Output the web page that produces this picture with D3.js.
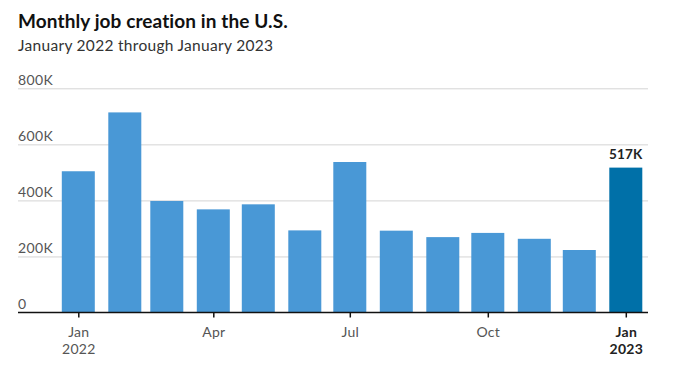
<!DOCTYPE html>
<html>
<head>
<meta charset="utf-8">
<script src="https://cdn.jsdelivr.net/npm/d3@7"></script>
<style>
  body { margin: 0; background: #fff; }
  #container { width: 675px; height: 377px; }
  text { font-family: Lato, "Open Sans", sans-serif; }
</style>
</head>
<body>
<div id="container"></div>
<script>
// values in thousands
const months = ['2022-01-01', '2022-02-01', '2022-03-01', '2022-04-01', '2022-05-01', '2022-06-01', '2022-07-01',
    '2022-08-01', '2022-09-01', '2022-10-01', '2022-11-01', '2022-12-01', '2023-01-01']
const jobs = [504, 714, 398, 368, 386, 293, 537, 292, 269, 284, 263, 223, 517]
const yTicks = [0, 200, 400, 600, 800]
const xTickDates = ['2022-01-01', '2022-04-01', '2022-07-01', '2022-10-01', '2023-01-01']
const xTickLabels = [['Jan', '2022'], ['Apr'], ['Jul'], ['Oct'], ['Jan', '2023']]

const width = 675
const height = 377
const left = 18
const right = 648

const svg = d3.select('#container').append('svg').attr('width', width).attr('height', height)

const parse = d3.utcParse('%Y-%m-%d')
const dataset = months.map((m, i) => ({ date: parse(m), value: jobs[i] }))

const xScale = d3.scaleUtc()
    .domain([parse('2022-01-01'), parse('2023-01-01')])
    .range([78.3, 625.8])

const yScale = d3.scaleLinear()
    .domain([0, 800])
    .range([312.5, 88.3])

const barW = 33

// title
svg.append('text').attr('x', left).attr('y', 28)
    .attr('font-size', 19).attr('font-weight', 700).attr('fill', '#111')
    .attr('letter-spacing', 0.1)
    .text('Monthly job creation in the U.S.')
svg.append('text').attr('x', left).attr('y', 51)
    .attr('font-size', 15.5).attr('font-weight', 400).attr('fill', '#333')
    .attr('letter-spacing', 0.3)
    .text('January 2022 through January 2023')

// grid
const yAxis = d3.axisLeft(yScale).tickValues(yTicks).tickSize(0)
    .tickFormat(d => d === 0 ? '0' : d + 'K')
const gy = svg.append('g').attr('id', 'y-axis').call(yAxis)
gy.select('.domain').remove()
gy.selectAll('.tick line').remove()
gy.selectAll('.tick').each(function (d) {
    const g = d3.select(this)
    if (d !== 0) {
        g.append('line').attr('x1', left).attr('x2', right)
            .attr('stroke', '#d4d4d4').attr('stroke-width', 1)
    }
    g.select('text').attr('x', left).attr('dy', null).attr('y', -4)
        .attr('text-anchor', 'start').attr('font-size', 14).attr('letter-spacing', 0.4)
        .attr('fill', '#555').style('font-family', 'Lato, sans-serif')
})

// bars
svg.selectAll('rect.bar').data(dataset).enter().append('rect')
    .attr('class', 'bar')
    .attr('x', d => xScale(d.date) - barW / 2)
    .attr('width', barW)
    .attr('y', d => yScale(d.value))
    .attr('height', d => yScale(0) - yScale(d.value))
    .attr('fill', (d, i) => i === dataset.length - 1 ? '#0070a8' : '#4998d6')

// label on the last bar
const last = dataset[dataset.length - 1]
svg.append('text')
    .attr('x', xScale(last.date)).attr('y', yScale(last.value) - 9)
    .attr('text-anchor', 'middle').attr('font-size', 13.5).attr('font-weight', 700)
    .attr('letter-spacing', 0.2)
    .attr('fill', '#222').text(last.value + 'K')

// x axis
const xAxis = d3.axisBottom(xScale).tickValues(xTickDates.map(parse)).tickSize(5).tickFormat('')
const gx = svg.append('g').attr('id', 'x-axis')
    .attr('transform', `translate(0, ${yScale(0)})`)
    .call(xAxis)
gx.select('.domain').remove()
gx.append('line').attr('x1', left).attr('x2', right).attr('stroke', '#111').attr('stroke-width', 1.5)
gx.selectAll('.tick line').attr('stroke', '#111').attr('stroke-width', 1.5)
gx.selectAll('.tick').each(function (d, i) {
    const lines = xTickLabels[i]
    const bold = i === xTickLabels.length - 1
    lines.forEach((s, j) => {
        d3.select(this).append('text')
            .attr('x', 0).attr('y', 24 + j * 17.5)
            .attr('text-anchor', 'middle').attr('font-size', 14)
            .attr('letter-spacing', 0.3)
            .attr('font-weight', bold ? 700 : 400)
            .attr('fill', bold ? '#222' : '#555')
            .text(s)
    })
})
</script>
</body>
</html>
